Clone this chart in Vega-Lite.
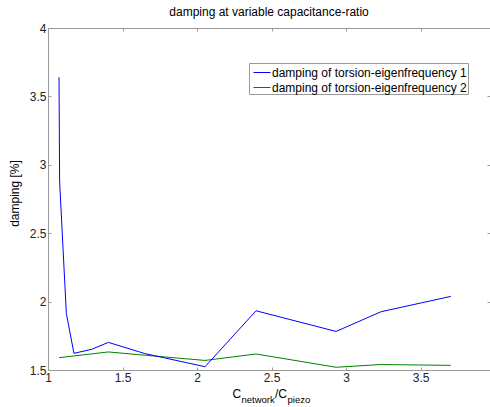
{
  "$schema": "https://vega.github.io/schema/vega-lite/v6.json",
  "width": 442,
  "height": 342,
  "autosize": {"type": "none"},
  "padding": {"left": 48, "top": 28, "right": 0, "bottom": 37},
  "title": {"text": "damping at variable capacitance-ratio", "fontSize": 12, "fontWeight": "normal", "font": "Liberation Sans", "color": "#000000", "anchor": "middle", "baseline": "bottom", "offset": 7, "dy": 16},
  "data": {"values": [
    {"s": "damping of torsion-eigenfrequency 1", "ratio": 1.074, "damping": 3.64},
    {"s": "damping of torsion-eigenfrequency 1", "ratio": 1.078, "damping": 2.88},
    {"s": "damping of torsion-eigenfrequency 1", "ratio": 1.123, "damping": 1.914},
    {"s": "damping of torsion-eigenfrequency 1", "ratio": 1.174, "damping": 1.622},
    {"s": "damping of torsion-eigenfrequency 1", "ratio": 1.293, "damping": 1.651},
    {"s": "damping of torsion-eigenfrequency 1", "ratio": 1.405, "damping": 1.702},
    {"s": "damping of torsion-eigenfrequency 1", "ratio": 1.65, "damping": 1.62},
    {"s": "damping of torsion-eigenfrequency 1", "ratio": 2.054, "damping": 1.524},
    {"s": "damping of torsion-eigenfrequency 1", "ratio": 2.396, "damping": 1.933},
    {"s": "damping of torsion-eigenfrequency 1", "ratio": 2.933, "damping": 1.782},
    {"s": "damping of torsion-eigenfrequency 1", "ratio": 3.235, "damping": 1.926},
    {"s": "damping of torsion-eigenfrequency 1", "ratio": 3.703, "damping": 2.038},
    {"s": "damping of torsion-eigenfrequency 2", "ratio": 1.074, "damping": 1.59},
    {"s": "damping of torsion-eigenfrequency 2", "ratio": 1.405, "damping": 1.632},
    {"s": "damping of torsion-eigenfrequency 2", "ratio": 1.65, "damping": 1.608},
    {"s": "damping of torsion-eigenfrequency 2", "ratio": 2.054, "damping": 1.57},
    {"s": "damping of torsion-eigenfrequency 2", "ratio": 2.396, "damping": 1.617},
    {"s": "damping of torsion-eigenfrequency 2", "ratio": 2.933, "damping": 1.52},
    {"s": "damping of torsion-eigenfrequency 2", "ratio": 3.235, "damping": 1.54},
    {"s": "damping of torsion-eigenfrequency 2", "ratio": 3.703, "damping": 1.534}
  ]},
  "config": {
    "view": {"stroke": null},
    "font": "Liberation Sans",
    "axis": {
      "grid": false,
      "domainColor": "#999999",
      "tickColor": "#999999",
      "labelColor": "#222222",
      "labelFont": "Liberation Sans",
      "labelFontSize": 12,
      "titleFont": "Liberation Sans",
      "titleFontSize": 12,
      "titleFontWeight": "normal",
      "titleColor": "#000000",
      "tickSize": -3,
      "labelFlush": false,
      "labelOverlap": false,
      "format": "~g"
    }
  },
  "layer": [
    {
      "transform": [{"filter": "datum.s == 'damping of torsion-eigenfrequency 1' && datum.ratio <= 1.174"}],
      "mark": {"type": "line", "strokeWidth": 1, "clip": true},
      "encoding": {
        "x": {"field": "ratio", "type": "quantitative",
          "scale": {"domain": [1, 3.966], "nice": false, "zero": false},
          "axis": {"orient": "bottom", "values": [1, 1.5, 2, 2.5, 3, 3.5], "labelPadding": 5,
            "title": "C", "titleX": 184, "titleY": 27, "titleAlign": "left", "titleBaseline": "alphabetic", "titleAngle": 0}},
        "y": {"field": "damping", "type": "quantitative",
          "scale": {"domain": [1.5, 4], "nice": false, "zero": false},
          "axis": {"orient": "left", "values": [1.5, 2, 2.5, 3, 3.5, 4], "labelPadding": 5,
            "title": "damping [%]", "titleX": -30, "titleY": 165, "titleAngle": 270, "titleAlign": "center", "titleBaseline": "alphabetic"}},
        "color": {"field": "s", "type": "nominal",
          "scale": {"domain": ["damping of torsion-eigenfrequency 1", "damping of torsion-eigenfrequency 2"], "range": ["#0000ff", "#008000"]},
          "legend": {"orient": "none", "legendX": 201, "legendY": 35, "title": null, "symbolType": "stroke", "symbolSize": 289, "symbolStrokeWidth": 1, "symbolOffset": 3.5,
            "labelFontSize": 12, "labelFont": "Liberation Sans", "labelColor": "#000000", "strokeColor": "#999999", "fillColor": "#ffffff",
            "padding": 0.5, "rowPadding": 0, "labelOffset": 1, "labelLimit": 0}}
      }
    },
    {
      "transform": [{"filter": "datum.s == 'damping of torsion-eigenfrequency 2'"}],
      "mark": {"type": "line", "strokeWidth": 1, "clip": true},
      "encoding": {
        "x": {"field": "ratio", "type": "quantitative",
          "axis": {"orient": "top", "values": [1, 1.5, 2, 2.5, 3, 3.5], "labels": false,
            "title": "network", "titleFontSize": 9.5, "titleX": 193, "titleY": 374, "titleAlign": "left", "titleBaseline": "alphabetic", "titleAngle": 0}},
        "y": {"field": "damping", "type": "quantitative",
          "axis": {"orient": "right", "values": [1.5, 2, 2.5, 3, 3.5, 4], "labels": false,
            "title": "/C", "titleX": -215.5, "titleY": 369, "titleAngle": 0, "titleAlign": "left", "titleBaseline": "alphabetic"}},
        "color": {"field": "s", "type": "nominal", "legend": null}
      }
    },
    {
      "transform": [{"filter": "datum.s == 'damping of torsion-eigenfrequency 1' && datum.ratio >= 1.174"}],
      "mark": {"type": "line", "strokeWidth": 1, "clip": true},
      "encoding": {
        "x": {"field": "ratio", "type": "quantitative",
          "axis": {"orient": "bottom", "domain": false, "ticks": false, "labels": false,
            "title": "piezo", "titleFontSize": 9.5, "titleX": 239, "titleY": 32, "titleAlign": "left", "titleBaseline": "alphabetic", "titleAngle": 0}},
        "y": {"field": "damping", "type": "quantitative", "axis": null},
        "color": {"field": "s", "type": "nominal", "legend": null}
      }
    }
  ],
  "resolve": {"axis": {"x": "independent", "y": "independent"}}
}
